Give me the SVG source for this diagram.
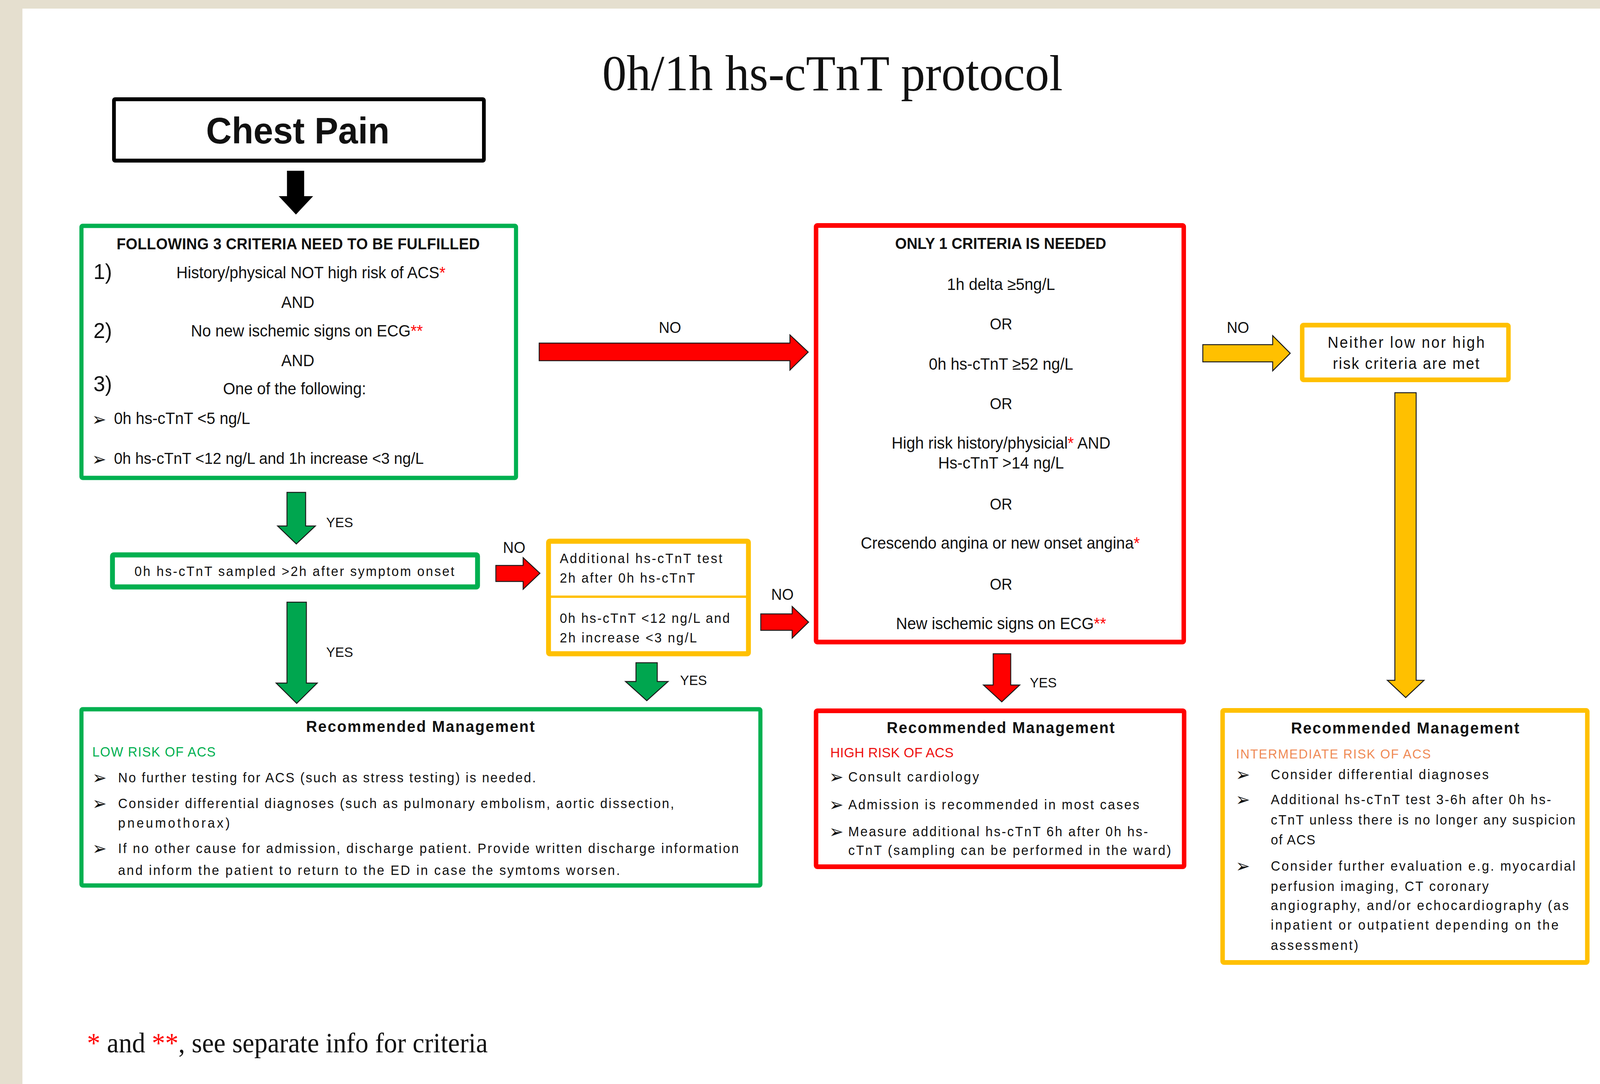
<svg xmlns="http://www.w3.org/2000/svg" width="4282" height="2774" viewBox="0 0 4282 2774" preserveAspectRatio="none" style="width:100vw;height:100vh;display:block">
<style>
.t{font-family:"Liberation Sans",Arial,sans-serif;fill:#111;}
.b{font-weight:bold;}
.s{font-family:"Liberation Serif","Times New Roman",serif;fill:#111;}
.bul{font-family:"DejaVu Sans",sans-serif;font-size:46px;fill:#111;}
.gbox{fill:#fff;stroke:#00b050;stroke-width:11;}
.rbox{fill:#fff;stroke:#ff0000;stroke-width:12;}
.ybox{fill:#fff;stroke:#ffc000;stroke-width:12;}
.kbox{fill:#fff;stroke:#000;stroke-width:10;}
.ga{fill:#00a64f;stroke:#1a1a1a;stroke-width:2.5;}
.ra{fill:#ff0000;stroke:#1a1a1a;stroke-width:2.5;}
.ya{fill:#ffc000;stroke:#1a1a1a;stroke-width:2.5;}
.ka{fill:#000;}
.st{fill:#ff0000;}
.f42{font-size:42px;}
.f33{font-size:35px;}
.mid{text-anchor:middle;}
</style>
<rect x="0" y="0" width="4282" height="2774" fill="#ffffff"/>
<rect x="0" y="0" width="4282" height="22" fill="#e5dfcf"/>
<rect x="0" y="0" width="60" height="2774" fill="#e5dfcf"/>

<g id="title">
<text class="s mid" x="2228" y="231" font-size="130">0h/1h hs-cTnT protocol</text>
</g>

<g id="n-chest-pain">
<rect class="kbox" x="305" y="254" width="990" height="157" rx="3"/>
<text class="t b mid" x="797" y="367" font-size="95">Chest Pain</text>
</g>

<g id="n-low-criteria">
<rect class="gbox" x="218" y="578" width="1163" height="645" rx="3"/>
<text class="t b" x="312" y="638" font-size="40" textLength="972">FOLLOWING 3 CRITERIA NEED TO BE FULFILLED</text>
<text class="t" x="250" y="714" font-size="56">1)</text>
<text class="t f42" x="472" y="712">History/physical NOT high risk of ACS<tspan class="st">*</tspan></text>
<text class="t f42 mid" x="797" y="788">AND</text>
<text class="t" x="250" y="865" font-size="56">2)</text>
<text class="t f42" x="511" y="861">No new ischemic signs on ECG<tspan class="st">**</tspan></text>
<text class="t f42 mid" x="797" y="937">AND</text>
<text class="t" x="250" y="1001" font-size="56">3)</text>
<text class="t f42" x="597" y="1009">One of the following:</text>
<text class="bul" x="246" y="1089">➢</text>
<text class="t f42" x="305" y="1085">0h hs-cTnT &lt;5 ng/L</text>
<text class="bul" x="246" y="1191">➢</text>
<text class="t" x="305" y="1187" font-size="41" textLength="829">0h hs-cTnT &lt;12 ng/L and 1h increase &lt;3 ng/L</text>
</g>

<g id="n-sampled">
<rect x="301" y="1420" width="977" height="82" rx="3" fill="#fff" stroke="#00b050" stroke-width="13"/>
<text class="t f33" x="360" y="1474" textLength="856">0h hs-cTnT sampled &gt;2h after symptom onset</text>
</g>

<g id="n-additional">
<rect x="1468" y="1385" width="535" height="288" rx="3" fill="#fff" stroke="#ffc000" stroke-width="13"/>
<line x1="1468" y1="1527" x2="2003" y2="1527" stroke="#ffc000" stroke-width="6"/>
<text class="t f33" x="1498" y="1441" textLength="435">Additional hs-cTnT test</text>
<text class="t f33" x="1498" y="1491" textLength="362">2h after 0h hs-cTnT</text>
<text class="t f33" x="1498" y="1594" textLength="455">0h hs-cTnT &lt;12 ng/L and</text>
<text class="t f33" x="1498" y="1644" textLength="367">2h increase &lt;3 ng/L</text>
</g>

<g id="n-high-criteria">
<rect class="rbox" x="2184" y="577" width="984" height="1066" rx="3"/>
<text class="t b mid" x="2678" y="637" font-size="40">ONLY 1 CRITERIA IS NEEDED</text>
<text class="t f42 mid" x="2679" y="742">1h delta ≥5ng/L</text>
<text class="t mid" x="2679" y="843" font-size="40">OR</text>
<text class="t f42 mid" x="2679" y="946">0h hs-cTnT ≥52 ng/L</text>
<text class="t mid" x="2679" y="1047" font-size="40">OR</text>
<text class="t f42 mid" x="2679" y="1148">High risk history/physicial<tspan class="st">*</tspan> AND</text>
<text class="t f42 mid" x="2679" y="1199">Hs-cTnT &gt;14 ng/L</text>
<text class="t mid" x="2679" y="1304" font-size="40">OR</text>
<text class="t f42 mid" x="2677" y="1404">Crescendo angina or new onset angina<tspan class="st">*</tspan></text>
<text class="t mid" x="2679" y="1509" font-size="40">OR</text>
<text class="t f42 mid" x="2679" y="1610">New ischemic signs on ECG<tspan class="st">**</tspan></text>
</g>

<g id="n-neither">
<rect class="ybox" x="3485" y="832" width="552" height="140" rx="3"/>
<text class="t" x="3553" y="890" font-size="40" textLength="420">Neither low nor high</text>
<text class="t" x="3567" y="944" font-size="40" textLength="392">risk criteria are met</text>
</g>

<g id="n-low-management">
<rect class="gbox" x="218" y="1815" width="1817" height="451" rx="3"/>
<text class="t b" x="819" y="1873" font-size="41" textLength="612">Recommended Management</text>
<text class="t" x="247" y="1936" font-size="35" style="fill:#00b050" textLength="330">LOW RISK OF ACS</text>
<text class="bul" x="247" y="2006">➢</text>
<text class="t f33" x="316" y="2002" textLength="1118">No further testing for ACS (such as stress testing) is needed.</text>
<text class="bul" x="247" y="2072">➢</text>
<text class="t f33" x="316" y="2068" textLength="1488">Consider differential diagnoses (such as pulmonary embolism, aortic dissection,</text>
<text class="t f33" x="316" y="2118" textLength="299">pneumothorax)</text>
<text class="bul" x="247" y="2187">➢</text>
<text class="t f33" x="316" y="2183" textLength="1661">If no other cause for admission, discharge patient. Provide written discharge information</text>
<text class="t f33" x="316" y="2239" textLength="1343">and inform the patient to return to the ED in case the symtoms worsen.</text>
</g>

<g id="n-high-management">
<rect class="rbox" x="2184" y="1819" width="985" height="399" rx="3"/>
<text class="t b" x="2373" y="1876" font-size="41" textLength="610">Recommended Management</text>
<text class="t" x="2222" y="1938" font-size="36" style="fill:#ee1111" textLength="330">HIGH RISK OF ACS</text>
<text class="bul" x="2219" y="2004">➢</text>
<text class="t f33" x="2270" y="2000" textLength="350">Consult cardiology</text>
<text class="bul" x="2219" y="2075">➢</text>
<text class="t f33" x="2270" y="2071" textLength="779">Admission is recommended in most cases</text>
<text class="bul" x="2219" y="2144">➢</text>
<text class="t f33" x="2270" y="2140" textLength="802">Measure additional hs-cTnT 6h after 0h hs-</text>
<text class="t f33" x="2270" y="2188" textLength="864">cTnT (sampling can be performed in the ward)</text>
</g>

<g id="n-intermediate-management">
<rect class="ybox" x="3272" y="1818" width="976" height="645" rx="3"/>
<text class="t b" x="3455" y="1877" font-size="41" textLength="611">Recommended Management</text>
<text class="t" x="3308" y="1941" font-size="34" style="fill:#ef8a55" textLength="521">INTERMEDIATE RISK OF ACS</text>
<text class="bul" x="3307" y="1998">➢</text>
<text class="t f33" x="3401" y="1994" textLength="583">Consider differential diagnoses</text>
<text class="bul" x="3307" y="2062">➢</text>
<text class="t f33" x="3401" y="2058" textLength="750">Additional hs-cTnT test 3-6h after 0h hs-</text>
<text class="t f33" x="3401" y="2110" textLength="815">cTnT unless there is no longer any suspicion</text>
<text class="t f33" x="3401" y="2161" textLength="119">of ACS</text>
<text class="bul" x="3307" y="2232">➢</text>
<text class="t f33" x="3401" y="2228" textLength="815">Consider further evaluation e.g. myocardial</text>
<text class="t f33" x="3401" y="2280" textLength="583">perfusion imaging, CT coronary</text>
<text class="t f33" x="3401" y="2329" textLength="797">angiography, and/or echocardiography (as</text>
<text class="t f33" x="3401" y="2379" textLength="770">inpatient or outpatient depending on the</text>
<text class="t f33" x="3401" y="2431" textLength="234">assessment)</text>
</g>

<g id="connectors">
<polygon class="ka" points="768,437 814,437 814,502 838,502 792,549 746,502 768,502"/>
<polygon class="ga" points="768,1260 818,1260 818,1346 844,1346 793,1392 743,1346 768,1346"/>
<polygon class="ga" points="768,1541 820,1541 820,1748 849,1748 794,1800 739,1748 768,1748"/>
<polygon class="ga" points="1702,1696 1759,1696 1759,1744 1788,1744 1731,1793 1674,1744 1702,1744"/>
<polygon class="ra" points="1443,878 2114,878 2114,857 2163,901 2114,947 2114,923 1443,923"/>
<polygon class="ra" points="1327,1447 1400,1447 1400,1427 1445,1467 1400,1508 1400,1488 1327,1488"/>
<polygon class="ra" points="2036,1571 2120,1571 2120,1552 2164,1592 2120,1633 2120,1613 2036,1613"/>
<polygon class="ra" points="2658,1673 2705,1673 2705,1753 2729,1753 2681,1796 2632,1753 2658,1753"/>
<polygon class="ya" points="3219,882 3406,882 3406,859 3453,904 3406,949 3406,926 3219,926"/>
<polygon class="ya" points="3733,1005 3790,1005 3790,1741 3811,1741 3762,1785 3713,1741 3733,1741"/>
<text class="t mid" x="1793" y="852" font-size="40">NO</text>
<text class="t" x="873" y="1349" font-size="36">YES</text>
<text class="t" x="873" y="1681" font-size="36">YES</text>
<text class="t mid" x="1376" y="1415" font-size="40">NO</text>
<text class="t mid" x="2094" y="1535" font-size="40">NO</text>
<text class="t" x="1820" y="1753" font-size="36">YES</text>
<text class="t" x="2756" y="1759" font-size="36">YES</text>
<text class="t mid" x="3313" y="852" font-size="40">NO</text>
</g>

<g id="footnote">
<text class="s" x="233" y="2693" font-size="71"><tspan class="st">*</tspan> and <tspan class="st">**</tspan>, see separate info for criteria</text>
</g>
</svg>
